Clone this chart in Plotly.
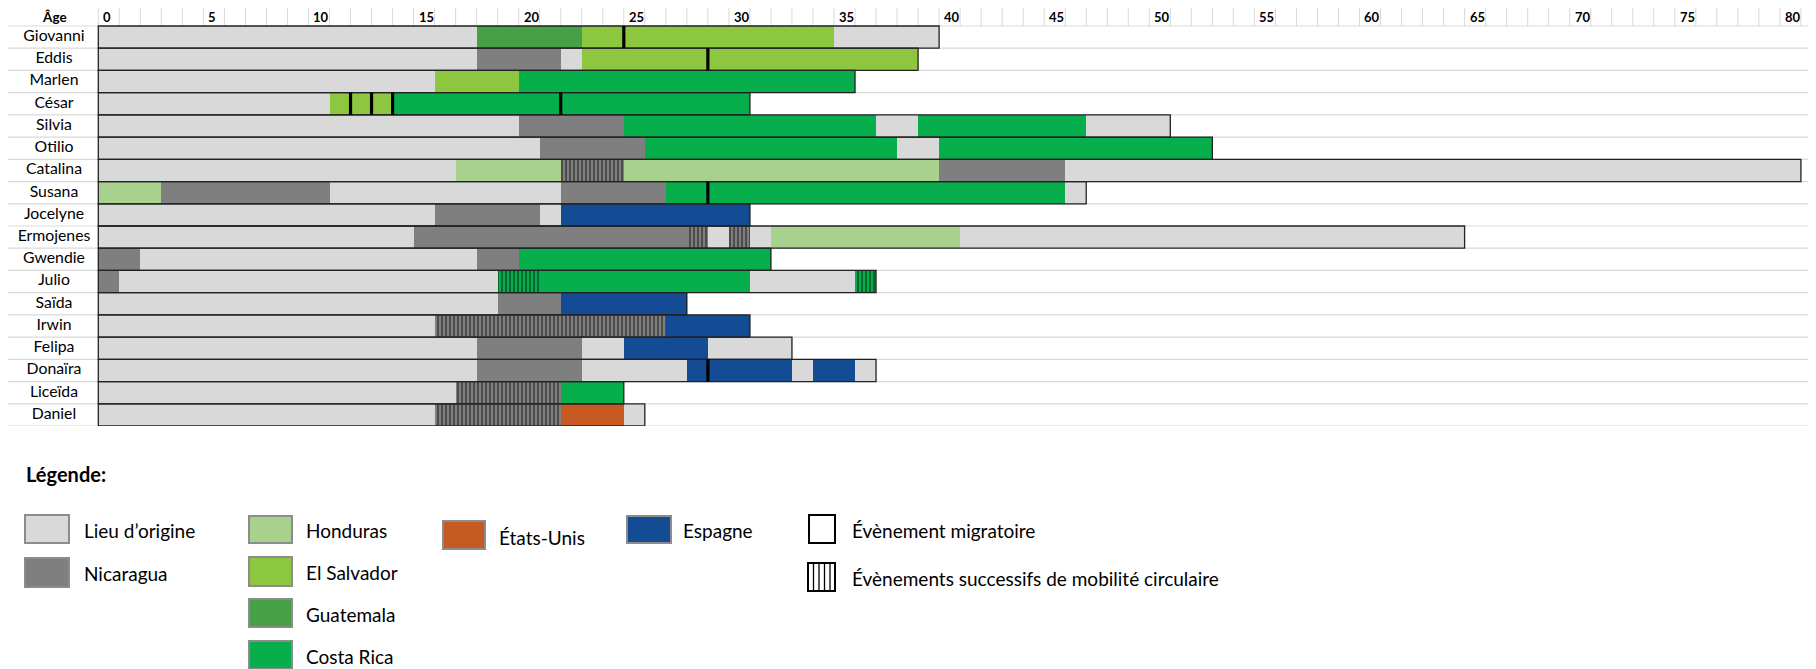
import plotly.graph_objects as go

# ---------------- data ----------------
persons = ["Giovanni", "Eddis", "Marlen", "César", "Silvia", "Otilio", "Catalina",
           "Susana", "Jocelyne", "Ermojenes", "Gwendie", "Julio", "Saïda", "Irwin",
           "Felipa", "Donaïra", "Liceïda", "Daniel"]

# place codes: O origine, N Nicaragua, H Honduras, S El Salvador, G Guatemala,
# C Costa Rica, U États-Unis, E Espagne ; "*" = circular mobility (hatched)
places = [
    ["O", "G", "S", "O"],
    ["O", "N", "O", "S"],
    ["O", "S", "C"],
    ["O", "S", "C"],
    ["O", "N", "C", "O", "C", "O"],
    ["O", "N", "C", "O", "C"],
    ["O", "H", "N*", "H", "N", "O"],
    ["H", "N", "O", "N", "C", "O"],
    ["O", "N", "O", "E"],
    ["O", "N", "N*", "O", "N*", "O", "H", "O"],
    ["N", "O", "N", "C"],
    ["N", "O", "C*", "C", "O", "C*"],
    ["O", "N", "E"],
    ["O", "N*", "E"],
    ["O", "N", "O", "E", "O"],
    ["O", "N", "O", "E", "O", "E", "O"],
    ["O", "N*", "C"],
    ["O", "N*", "U", "O"],
]
breaks = [
    [0, 18, 23, 35, 40],
    [0, 18, 22, 23, 39],
    [0, 16, 20, 36],
    [0, 11, 14, 31],
    [0, 20, 25, 37, 39, 47, 51],
    [0, 21, 26, 38, 40, 53],
    [0, 17, 22, 25, 40, 46, 81],
    [0, 3, 11, 22, 27, 46, 47],
    [0, 16, 21, 22, 31],
    [0, 15, 28, 29, 30, 31, 32, 41, 65],
    [0, 2, 18, 20, 32],
    [0, 1, 19, 21, 31, 36, 37],
    [0, 19, 22, 28],
    [0, 16, 27, 31],
    [0, 18, 23, 25, 29, 33],
    [0, 18, 23, 28, 33, 34, 36, 37],
    [0, 17, 22, 25],
    [0, 16, 22, 25, 26],
]

event_person = ["Giovanni", "Eddis", "César", "César", "César", "César", "Susana", "Donaïra"]
event_age = [25, 29, 12, 13, 14, 22, 29, 29]

tick_ages = [0, 5, 10, 15, 20, 25, 30, 35, 40, 45, 50, 55, 60, 65, 70, 75, 80]
tick_labels = ["0", "5", "10", "15", "20", "25", "30", "35", "40", "45", "50",
               "55", "60", "65", "70", "75", "80"]

legend_codes = ["O", "N", "H", "S", "G", "C", "U", "E"]
legend_labels = ["Lieu d’origine", "Nicaragua", "Honduras", "El Salvador",
                 "Guatemala", "Costa Rica", "États-Unis", "Espagne"]
legend_event_labels = ["Évènement migratoire",
                       "Évènements successifs de mobilité circulaire"]

# ---------------- style / geometry ----------------
COLORS = {"O": "#D9D9D9", "N": "#7F7F7F", "H": "#A9D18E", "S": "#8DC63F",
          "G": "#46A046", "C": "#07AF4C", "U": "#C65A22", "E": "#134C94"}
FONT = "Lato"
OFF = 8                      # page body margin (figure origin in the window)
W, H = 1816 - OFF, 669 - OFF
AGE0_PX = 98.3               # window x of age 0
PX_PER_YEAR = 21.02
ROWS_TOP, ROWS_BOTTOM = 26.0, 426.0   # window y of data rows
ROW_H = (ROWS_BOTTOM - ROWS_TOP) / len(persons)
PLOT_TOP = OFF
HEADER_TOP = -0.5 - (ROWS_TOP - 7.5) / ROW_H
Y_TOP = -0.5 - (ROWS_TOP - PLOT_TOP) / ROW_H
X_MIN = (OFF - AGE0_PX) / PX_PER_YEAR
X_MAX = (1816 - AGE0_PX) / PX_PER_YEAR
LABEL_X = (54 - AGE0_PX) / PX_PER_YEAR


def px_x(px):
    return (px - OFF) / W


def px_y(py):
    return (ROWS_BOTTOM - py) / (ROWS_BOTTOM - PLOT_TOP)


fig = go.Figure()

# bars, one trace per place code
codes = ["O", "N", "H", "S", "G", "C", "U", "E", "N*", "C*"]
for code in codes:
    ys, bases, lens = [], [], []
    for p, pl, br in zip(persons, places, breaks):
        for k, c in enumerate(pl):
            if c == code:
                ys.append(p)
                bases.append(br[k])
                lens.append(br[k + 1] - br[k])
    if not ys:
        continue
    base_code = code.rstrip("*")
    marker = dict(color=COLORS[base_code], line=dict(width=0))
    if code.endswith("*"):
        marker["pattern"] = dict(shape="|", fgcolor="#000000", size=4, solidity=0.4)
    fig.add_trace(go.Bar(orientation="h", y=ys, x=lens, base=bases, marker=marker,
                         width=1.0, showlegend=False, hoverinfo="skip"))

# row labels (centered in the label column)
fig.add_trace(go.Scatter(x=[LABEL_X] * len(persons), y=persons, mode="text",
                         text=persons, textposition="middle center",
                         textfont=dict(family=FONT, size=15.8, color="#000000"),
                         showlegend=False, hoverinfo="skip"))

shapes = []
# header vertical grid
for k in range(0, 82):
    shapes.append(dict(type="line", xref="x", yref="y", x0=k, x1=k,
                       y0=Y_TOP, y1=-0.5, line=dict(color="#D9D9D9", width=1),
                       layer="below"))
# horizontal grid lines
for yv in [HEADER_TOP] + [i - 0.5 for i in range(len(persons) + 1)]:
    shapes.append(dict(type="line", xref="paper", yref="y", x0=0, x1=1,
                       y0=yv, y1=yv, line=dict(color="#D9D9D9", width=1.2),
                       layer="below"))
# bar outlines
for i, br in enumerate(breaks):
    shapes.append(dict(type="rect", xref="x", yref="y", x0=0, x1=br[-1],
                       y0=i - 0.5, y1=i + 0.5, line=dict(color="#222222", width=1.3),
                       fillcolor="rgba(0,0,0,0)", layer="above"))
# migration events
for p, a in zip(event_person, event_age):
    i = persons.index(p)
    shapes.append(dict(type="line", xref="x", yref="y", x0=a, x1=a,
                       y0=i - 0.5, y1=i + 0.5, line=dict(color="#000000", width=3.2),
                       layer="above"))

annotations = []
header_mid = (HEADER_TOP - 0.5) / 2
annotations.append(dict(text="<b>Âge</b>", xref="x", yref="y", x=LABEL_X,
                        y=header_mid, xanchor="center", yanchor="middle",
                        showarrow=False, font=dict(family=FONT, size=13.5, color="#000")))
for a, t in zip(tick_ages, tick_labels):
    annotations.append(dict(text="<b>" + t + "</b>", xref="x", yref="y", x=a + 0.14,
                            y=header_mid, xanchor="left", yanchor="middle",
                            showarrow=False, font=dict(family=FONT, size=13, color="#000")))

# ---------------- custom legend ----------------
annotations.append(dict(text="<b>Légende:</b>", xref="paper", yref="paper",
                        x=px_x(24), y=px_y(474), xanchor="left", yanchor="middle",
                        showarrow=False, font=dict(family=FONT, size=20, color="#000")))
# (x0, x1, y0, y1, text_x, text_y) in window pixels
legend_pos = {
    "O": (25, 69, 515, 543, 82, 530),
    "N": (25, 69, 558, 587, 82, 573),
    "H": (249, 292, 516, 543, 304, 530),
    "S": (249, 292, 557, 586, 304, 572),
    "G": (249, 292, 599, 627, 304, 614),
    "C": (249, 292, 641, 669, 304, 656),
    "U": (443, 485, 521, 549, 497, 537),
    "E": (627, 671, 516, 543, 681, 530),
}
for code, lab in zip(legend_codes, legend_labels):
    x0, x1, y0, y1, tx, ty = legend_pos[code]
    shapes.append(dict(type="rect", xref="paper", yref="paper", x0=px_x(x0), x1=px_x(x1),
                       y0=px_y(y1), y1=px_y(y0), fillcolor=COLORS[code],
                       line=dict(color="#8C8C8C", width=2)))
    annotations.append(dict(text=lab, xref="paper", yref="paper", x=px_x(tx), y=px_y(ty),
                            xanchor="left", yanchor="middle", showarrow=False,
                            font=dict(family=FONT, size=19, color="#000")))
# event swatch
shapes.append(dict(type="rect", xref="paper", yref="paper", x0=px_x(809), x1=px_x(835),
                   y0=px_y(543), y1=px_y(515), fillcolor="#FFFFFF",
                   line=dict(color="#000000", width=2)))
annotations.append(dict(text=legend_event_labels[0], xref="paper", yref="paper",
                        x=px_x(850), y=px_y(530), xanchor="left", yanchor="middle",
                        showarrow=False, font=dict(family=FONT, size=19, color="#000")))
# circular mobility swatch
shapes.append(dict(type="rect", xref="paper", yref="paper", x0=px_x(808), x1=px_x(835),
                   y0=px_y(591), y1=px_y(563), fillcolor="#FFFFFF",
                   line=dict(color="#000000", width=2)))
for lx in [813.5, 819, 824.5, 830]:
    shapes.append(dict(type="line", xref="paper", yref="paper", x0=px_x(lx), x1=px_x(lx),
                       y0=px_y(591), y1=px_y(563), line=dict(color="#000000", width=1.3)))
annotations.append(dict(text=legend_event_labels[1], xref="paper", yref="paper",
                        x=px_x(850), y=px_y(578), xanchor="left", yanchor="middle",
                        showarrow=False, font=dict(family=FONT, size=19, color="#000")))

fig.update_layout(
    width=W, height=H,
    margin=dict(l=0, r=0, t=0, b=669 - ROWS_BOTTOM, pad=0),
    paper_bgcolor="#FFFFFF", plot_bgcolor="#FFFFFF",
    barmode="overlay", bargap=0,
    xaxis=dict(range=[X_MIN, X_MAX], visible=False, showgrid=False, zeroline=False,
               fixedrange=True),
    yaxis=dict(type="category", categoryorder="array", categoryarray=persons,
               range=[len(persons) - 0.5, Y_TOP], visible=False,
               showgrid=False, zeroline=False, fixedrange=True),
    shapes=shapes, annotations=annotations,
    font=dict(family=FONT, color="#000"),
)

fig.write_html("out.html")
